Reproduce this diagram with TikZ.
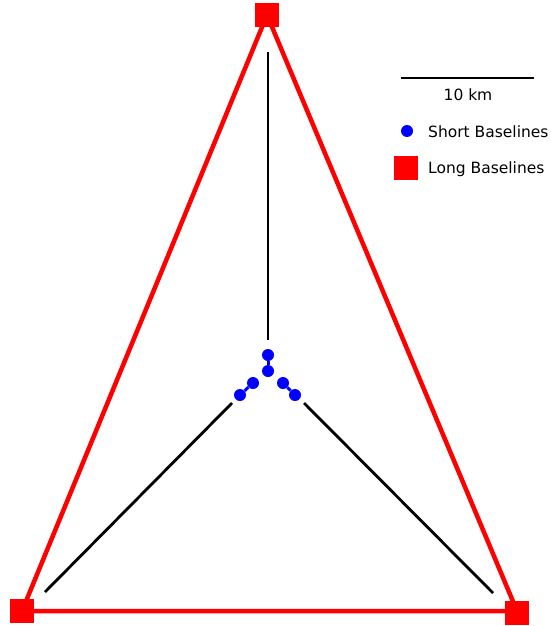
\documentclass[tikz,border=0pt]{standalone}
\usepackage{fontspec}
\setmainfont{DejaVu Sans}
\usepackage{xcolor}
\usepackage{tikz}
\usetikzlibrary{positioning}

\begin{document}
\begin{tikzpicture}[
    x=1pt, y=-1pt,
    station/.style={draw=none, rectangle, fill=red, minimum size=24pt, inner sep=0pt},
    antenna/.style={draw=none, circle, fill=blue, minimum size=12pt, inner sep=0pt},
    longbase/.style={draw=red, line width=4.5pt},
    shortbase/.style={draw=blue, line width=3pt},
    spoke/.style={draw=black, line width=2.8pt},
    legendtext/.style={anchor=west, inner sep=0pt, font=\fontsize{15.5}{18}\selectfont}
]
\useasboundingbox (0,0) rectangle (550,626);

% Long baseline triangle
\coordinate (ctop) at (267,15);
\coordinate (cleft) at (22,611);
\coordinate (cright) at (517,611);
\draw[longbase] (ctop) -- (cleft) -- (cright) -- cycle;
\node (top) [station] at (ctop) {};
\node (left) [station] at (cleft) {};
\node (right) [station] at (517,613) {};

% Spokes
\coordinate (s1a) at (268,52);
\coordinate (s1b) at (268,340);
\coordinate (s2a) at (232,403);
\coordinate (s2b) at (45,592);
\coordinate (s3a) at (304,403);
\coordinate (s3b) at (493,593);
\draw[spoke] (s1a) -- (s1b);
\draw[spoke] (s2a) -- (s2b);
\draw[spoke] (s3a) -- (s3b);

% Short baselines
\node (a1) [antenna] at (268,355) {};
\node (a2) [antenna] at (268,371) {};
\node (b1) [antenna] at (253,383) {};
\node (b2) [antenna] at (240,395) {};
\node (c1) [antenna] at (283,383) {};
\node (c2) [antenna] at (295,395) {};
\draw[shortbase] (a1) -- (a2);
\draw[shortbase] (b1) -- (b2);
\draw[shortbase] (c1) -- (c2);

% Legend
\coordinate (bar1) at (401,78);
\coordinate (bar2) at (534,78);
\draw[spoke, line width=2.4pt] (bar1) -- (bar2);
\node (scale) [inner sep=0pt, font=\fontsize{15.5}{18}\selectfont] at (468,95) {10 km};
\node (keyshort) [antenna] at (407,131) {};
\node (txtshort) [legendtext] at (428,132) {Short Baselines};
\node (keylong) [station] at (406,168) {};
\node (txtlong) [legendtext] at (428,169) {Long Baselines};

\end{tikzpicture}
\end{document}
